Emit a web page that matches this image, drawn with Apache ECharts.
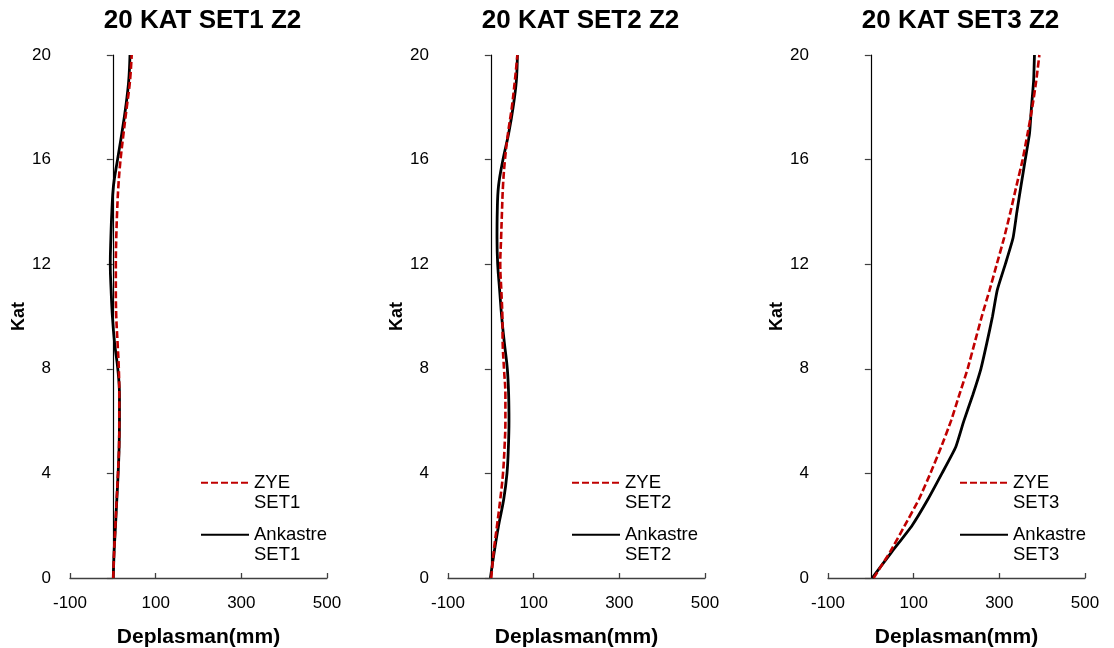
<!DOCTYPE html>
<html><head><meta charset="utf-8">
<script src="https://cdn.jsdelivr.net/npm/echarts@6/dist/echarts.min.js"></script>
<style>html,body{margin:0;padding:0;background:#fff}#c{width:1114px;height:648px}</style>
</head><body><div id="c"></div>
<script>
const kat = [0,1,2,3,4,5,6,7,8,9,10,11,12,13,14,15,16,17,18,19,20];
const titles = ['20 KAT SET1 Z2','20 KAT SET2 Z2','20 KAT SET3 Z2'];
const setNames = ['SET1','SET2','SET3'];
const xTickLabels = [-100,100,300,500];
// displacement (mm) per floor 0..20
const zyeSet1 = [1,3,6,9,12,14.5,15,15,14,11,8,7,7,8,10,13,18,25,32.5,40,44];
const ankSet1 = [1,3,6.2,9.3,12.4,14.7,15.5,15.5,11.6,4,-1,-4,-6,-4.6,-2.3,1.5,11,21,30,37,40];
const zyeSet2 = [1,6.6,14.4,22,28.4,32,34,34,30.7,27.6,27,24.5,22,24,26,28.4,33,40,49,56,62];
const ankSet2 = [-1,8,18,30,37.7,41,42.4,41.6,38.5,31.5,25.3,20.6,16,14.4,15,18,28.4,41.6,52,59.5,62];
const zyeSet3 = [6.5,45,79,112,139,164,187,206.5,226,242.5,259,277,294,311,326,340,354.4,366,377,386,393.5];
const ankSet3 = [3,49,96,133,166,198,217,238,257,271,284,295,314,332,341,350.6,360.5,370.5,375,380,382];

const zye = [zyeSet1, zyeSet2, zyeSet3];
const ank = [ankSet1, ankSet2, ankSet3];
const gridLefts = [70, 448, 828];
const legendOffsets = [130, 123, 131];
const gridW = 257;
const FONT = 'Liberation Sans, Arial, sans-serif';

const pair = (xs) => xs.map((v,i)=>[v, kat[i]]);

const option = {
  animation:false,
  title: [], grid: [], xAxis: [], yAxis: [], series: [], legend: []
};
for (let p=0;p<3;p++){
  const L = gridLefts[p];
  option.title.push({text:titles[p], left:L+gridW/2+4, top:8, textAlign:'center', padding:0,
    textStyle:{fontFamily:FONT,fontSize:26,fontWeight:'bold',color:'#000'}});
  option.grid.push({left:L, top:55, width:gridW, height:523, outerBoundsMode:'none', containLabel:false});
  option.xAxis.push({type:'value', gridIndex:p, min:-100, max:500, interval:200,
    name:'Deplasman(mm)', nameLocation:'middle', nameGap:49,
    nameTextStyle:{fontFamily:FONT,fontSize:21,fontWeight:'bold',color:'#000'},
    axisLine:{onZero:false, lineStyle:{color:'#404040',width:1.3}},
    axisTick:{inside:true,length:5,lineStyle:{color:'#404040',width:1.3}},
    axisLabel:{fontFamily:FONT,fontSize:17,color:'#000',margin:17,
      formatter:(v)=> xTickLabels.indexOf(v)>=0 ? String(v) : ''},
    splitLine:{show:false}});
  option.yAxis.push({type:'value', gridIndex:p, min:0, max:20, interval:4, position:'left',
    axisLine:{show:true,onZero:true,lineStyle:{color:'#000',width:1.2}},
    axisTick:{show:true,length:6,lineStyle:{color:'#404040',width:1.2}},
    axisLabel:{show:false}, splitLine:{show:false}});
  option.yAxis.push({type:'value', gridIndex:p, min:0, max:20, interval:4, position:'left',
    name:'Kat', nameLocation:'middle', nameGap:41,
    nameTextStyle:{fontFamily:FONT,fontSize:18,fontWeight:'bold',color:'#000'},
    axisLine:{show:false,onZero:false}, axisTick:{show:false},
    axisLabel:{fontFamily:FONT,fontSize:17,color:'#000',margin:19},
    splitLine:{show:false}});
  const nz = 'ZYE\n'+setNames[p], na = 'Ankastre\n'+setNames[p];
  option.series.push({name:nz, type:'line', xAxisIndex:p, yAxisIndex:2*p, data:pair(zye[p]),
    smooth: p<2 ? 0.4 : 0.15, showSymbol:false, symbol:'none', z:3,
    lineStyle:{color:'#c00000',width:2.6,type:[7,3]}, itemStyle:{color:'#c00000'}});
  option.series.push({name:na, type:'line', xAxisIndex:p, yAxisIndex:2*p, data:pair(ank[p]),
    smooth: p<2 ? 0.4 : 0.15, showSymbol:false, symbol:'none', z:2,
    lineStyle:{color:'#000',width:2.8}, itemStyle:{color:'#000'}});
  const legText = {fontFamily:FONT,fontSize:18.5,color:'#000',lineHeight:20.5};
  const lx = L + legendOffsets[p];
  option.legend.push({data:[nz], left:lx, top:452, padding:0,
    itemWidth:48, itemHeight:14, formatter:(n)=>'\n'+n, textStyle:legText,
    itemStyle:{opacity:0}});
  option.legend.push({data:[na], left:lx, top:504, padding:0,
    itemWidth:48, itemHeight:14, formatter:(n)=>'\n'+n, textStyle:legText,
    itemStyle:{opacity:0}});
}
const chart = echarts.init(document.getElementById('c'));
chart.setOption(option);
</script></body></html>
